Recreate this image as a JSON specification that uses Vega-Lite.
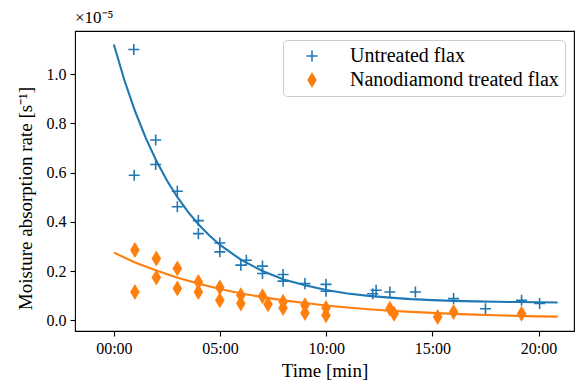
{
  "$schema": "https://vega.github.io/schema/vega-lite/v6.json",
  "width": 499,
  "height": 300,
  "autosize": {"type": "none"},
  "padding": {"left": 75, "top": 31, "right": 2, "bottom": 53},
  "background": "white",
  "config": {
    "font": "Liberation Serif",
    "view": {"stroke": "black", "strokeWidth": 1.1},
    "axis": {"grid": false, "domain": false, "tickColor": "black", "tickSize": 5, "tickWidth": 1.1, "labelFont": "Liberation Serif", "labelFontSize": 16, "labelColor": "black", "titleFont": "Liberation Serif", "titleFontSize": 19, "titleFontWeight": "normal", "titleColor": "black", "labelPadding": 4},
    "legend": {"padding": 6, "strokeColor": "#cccccc", "cornerRadius": 4, "fillColor": "rgba(255,255,255,0.8)", "labelFont": "Liberation Serif", "labelFontSize": 20, "labelColor": "black", "symbolSize": 256, "symbolOffset": 13, "labelOffset": 28, "rowPadding": 4, "symbolStrokeWidth": 0, "labelLimit": 400}
  },
  "title": {"text": "×10⁻⁵", "anchor": "start", "frame": "group", "font": "Liberation Serif", "fontSize": 17, "fontWeight": "normal", "color": "black", "offset": 4},
  "datasets": {
    "obs": [
      {"series": "Untreated flax", "t": 0.94, "y": 1.10},
      {"series": "Untreated flax", "t": 0.96, "y": 0.589},
      {"series": "Untreated flax", "t": 1.97, "y": 0.732},
      {"series": "Untreated flax", "t": 1.97, "y": 0.633},
      {"series": "Untreated flax", "t": 2.99, "y": 0.524},
      {"series": "Untreated flax", "t": 2.99, "y": 0.461},
      {"series": "Untreated flax", "t": 3.98, "y": 0.405},
      {"series": "Untreated flax", "t": 3.98, "y": 0.352},
      {"series": "Untreated flax", "t": 4.99, "y": 0.314},
      {"series": "Untreated flax", "t": 4.99, "y": 0.278},
      {"series": "Untreated flax", "t": 5.98, "y": 0.224},
      {"series": "Untreated flax", "t": 6.24, "y": 0.244},
      {"series": "Untreated flax", "t": 7.0, "y": 0.22},
      {"series": "Untreated flax", "t": 7.0, "y": 0.19},
      {"series": "Untreated flax", "t": 7.97, "y": 0.186},
      {"series": "Untreated flax", "t": 7.97, "y": 0.159},
      {"series": "Untreated flax", "t": 9.0, "y": 0.149},
      {"series": "Untreated flax", "t": 9.99, "y": 0.146},
      {"series": "Untreated flax", "t": 9.99, "y": 0.118},
      {"series": "Untreated flax", "t": 12.19, "y": 0.108},
      {"series": "Untreated flax", "t": 12.35, "y": 0.122},
      {"series": "Untreated flax", "t": 13.0, "y": 0.115},
      {"series": "Untreated flax", "t": 14.2, "y": 0.115},
      {"series": "Untreated flax", "t": 16.0, "y": 0.088},
      {"series": "Untreated flax", "t": 17.5, "y": 0.047},
      {"series": "Untreated flax", "t": 19.2, "y": 0.081},
      {"series": "Untreated flax", "t": 20.05, "y": 0.068},
      {"series": "Nanodiamond treated flax", "t": 0.99, "y": 0.285},
      {"series": "Nanodiamond treated flax", "t": 0.99, "y": 0.115},
      {"series": "Nanodiamond treated flax", "t": 2.0, "y": 0.251},
      {"series": "Nanodiamond treated flax", "t": 2.0, "y": 0.174},
      {"series": "Nanodiamond treated flax", "t": 2.99, "y": 0.21},
      {"series": "Nanodiamond treated flax", "t": 2.99, "y": 0.129},
      {"series": "Nanodiamond treated flax", "t": 3.98, "y": 0.156},
      {"series": "Nanodiamond treated flax", "t": 3.98, "y": 0.115},
      {"series": "Nanodiamond treated flax", "t": 4.99, "y": 0.133},
      {"series": "Nanodiamond treated flax", "t": 4.99, "y": 0.081},
      {"series": "Nanodiamond treated flax", "t": 5.98, "y": 0.102},
      {"series": "Nanodiamond treated flax", "t": 5.98, "y": 0.068},
      {"series": "Nanodiamond treated flax", "t": 7.0, "y": 0.098},
      {"series": "Nanodiamond treated flax", "t": 7.26, "y": 0.065},
      {"series": "Nanodiamond treated flax", "t": 7.97, "y": 0.075},
      {"series": "Nanodiamond treated flax", "t": 7.97, "y": 0.05},
      {"series": "Nanodiamond treated flax", "t": 9.0, "y": 0.061},
      {"series": "Nanodiamond treated flax", "t": 9.0, "y": 0.03},
      {"series": "Nanodiamond treated flax", "t": 9.99, "y": 0.05},
      {"series": "Nanodiamond treated flax", "t": 9.99, "y": 0.02},
      {"series": "Nanodiamond treated flax", "t": 13.0, "y": 0.047},
      {"series": "Nanodiamond treated flax", "t": 13.2, "y": 0.027},
      {"series": "Nanodiamond treated flax", "t": 15.25, "y": 0.013},
      {"series": "Nanodiamond treated flax", "t": 16.0, "y": 0.034},
      {"series": "Nanodiamond treated flax", "t": 19.2, "y": 0.027}
    ],
    "fit": [
      {"series": "Untreated flax", "t": 0, "y": 1.12},
      {"series": "Untreated flax", "t": 0.5, "y": 0.974},
      {"series": "Untreated flax", "t": 1, "y": 0.849},
      {"series": "Untreated flax", "t": 1.5, "y": 0.741},
      {"series": "Untreated flax", "t": 2, "y": 0.648},
      {"series": "Untreated flax", "t": 2.5, "y": 0.568},
      {"series": "Untreated flax", "t": 3, "y": 0.499},
      {"series": "Untreated flax", "t": 3.5, "y": 0.439},
      {"series": "Untreated flax", "t": 4, "y": 0.388},
      {"series": "Untreated flax", "t": 4.5, "y": 0.344},
      {"series": "Untreated flax", "t": 5, "y": 0.306},
      {"series": "Untreated flax", "t": 6, "y": 0.245},
      {"series": "Untreated flax", "t": 7, "y": 0.2},
      {"series": "Untreated flax", "t": 8, "y": 0.166},
      {"series": "Untreated flax", "t": 9, "y": 0.142},
      {"series": "Untreated flax", "t": 10, "y": 0.123},
      {"series": "Untreated flax", "t": 11, "y": 0.109},
      {"series": "Untreated flax", "t": 12, "y": 0.099},
      {"series": "Untreated flax", "t": 13, "y": 0.092},
      {"series": "Untreated flax", "t": 14, "y": 0.086},
      {"series": "Untreated flax", "t": 15, "y": 0.082},
      {"series": "Untreated flax", "t": 16, "y": 0.079},
      {"series": "Untreated flax", "t": 17, "y": 0.077},
      {"series": "Untreated flax", "t": 18, "y": 0.075},
      {"series": "Untreated flax", "t": 19, "y": 0.074},
      {"series": "Untreated flax", "t": 20, "y": 0.073},
      {"series": "Untreated flax", "t": 20.9, "y": 0.072},
      {"series": "Nanodiamond treated flax", "t": 0, "y": 0.275},
      {"series": "Nanodiamond treated flax", "t": 1, "y": 0.235},
      {"series": "Nanodiamond treated flax", "t": 2, "y": 0.202},
      {"series": "Nanodiamond treated flax", "t": 3, "y": 0.173},
      {"series": "Nanodiamond treated flax", "t": 4, "y": 0.148},
      {"series": "Nanodiamond treated flax", "t": 5, "y": 0.127},
      {"series": "Nanodiamond treated flax", "t": 6, "y": 0.109},
      {"series": "Nanodiamond treated flax", "t": 7, "y": 0.094},
      {"series": "Nanodiamond treated flax", "t": 8, "y": 0.081},
      {"series": "Nanodiamond treated flax", "t": 9, "y": 0.07},
      {"series": "Nanodiamond treated flax", "t": 10, "y": 0.06},
      {"series": "Nanodiamond treated flax", "t": 11, "y": 0.052},
      {"series": "Nanodiamond treated flax", "t": 12, "y": 0.045},
      {"series": "Nanodiamond treated flax", "t": 13, "y": 0.039},
      {"series": "Nanodiamond treated flax", "t": 14, "y": 0.034},
      {"series": "Nanodiamond treated flax", "t": 15, "y": 0.03},
      {"series": "Nanodiamond treated flax", "t": 16, "y": 0.026},
      {"series": "Nanodiamond treated flax", "t": 17, "y": 0.023},
      {"series": "Nanodiamond treated flax", "t": 18, "y": 0.0205},
      {"series": "Nanodiamond treated flax", "t": 19, "y": 0.018},
      {"series": "Nanodiamond treated flax", "t": 20, "y": 0.016},
      {"series": "Nanodiamond treated flax", "t": 20.9, "y": 0.015}
    ]
  },
  "encoding": {
    "x": {"field": "t", "type": "quantitative", "scale": {"domain": [-1.83, 21.67], "nice": false, "zero": false}, "axis": {"values": [0, 5, 10, 15, 20], "labelExpr": "(datum.value < 10 ? '0' : '') + datum.value + ':00'", "title": "Time [min]", "titlePadding": 5}},
    "y": {"field": "y", "type": "quantitative", "scale": {"domain": [-0.0435, 1.175], "nice": false, "zero": false}, "axis": {"values": [0, 0.2, 0.4, 0.6, 0.8, 1.0], "format": ".1f", "title": "Moisture absorption rate [s⁻¹]", "titlePadding": 11, "titleY": 167}}
  },
  "layer": [
    {
      "data": {"name": "fit"},
      "transform": [{"filter": "datum.series == 'Untreated flax'"}],
      "mark": {"type": "line", "strokeWidth": 2.1, "color": "#1f77b4"}
    },
    {
      "data": {"name": "fit"},
      "transform": [{"filter": "datum.series == 'Nanodiamond treated flax'"}],
      "mark": {"type": "line", "strokeWidth": 2.1, "color": "#ff7f0e"}
    },
    {
      "data": {"name": "obs"},
      "mark": {"type": "point", "filled": true, "opacity": 1, "size": 256, "strokeWidth": 0},
      "encoding": {
        "color": {"field": "series", "type": "nominal", "scale": {"domain": ["Untreated flax", "Nanodiamond treated flax"], "range": ["#1f77b4", "#ff7f0e"]}, "legend": {"title": null, "orient": "top-right", "offset": 9}},
        "shape": {"field": "series", "type": "nominal", "scale": {"domain": ["Untreated flax", "Nanodiamond treated flax"], "range": ["M-0.69,-0.1L-0.1,-0.1L-0.1,-0.69L0.1,-0.69L0.1,-0.1L0.69,-0.1L0.69,0.1L0.1,0.1L0.1,0.69L-0.1,0.69L-0.1,0.1L-0.69,0.1Z", "M0,-1L0.6,0L0,1L-0.6,0Z"]}, "legend": {"title": null, "orient": "top-right", "offset": 9}}
      }
    }
  ]
}
